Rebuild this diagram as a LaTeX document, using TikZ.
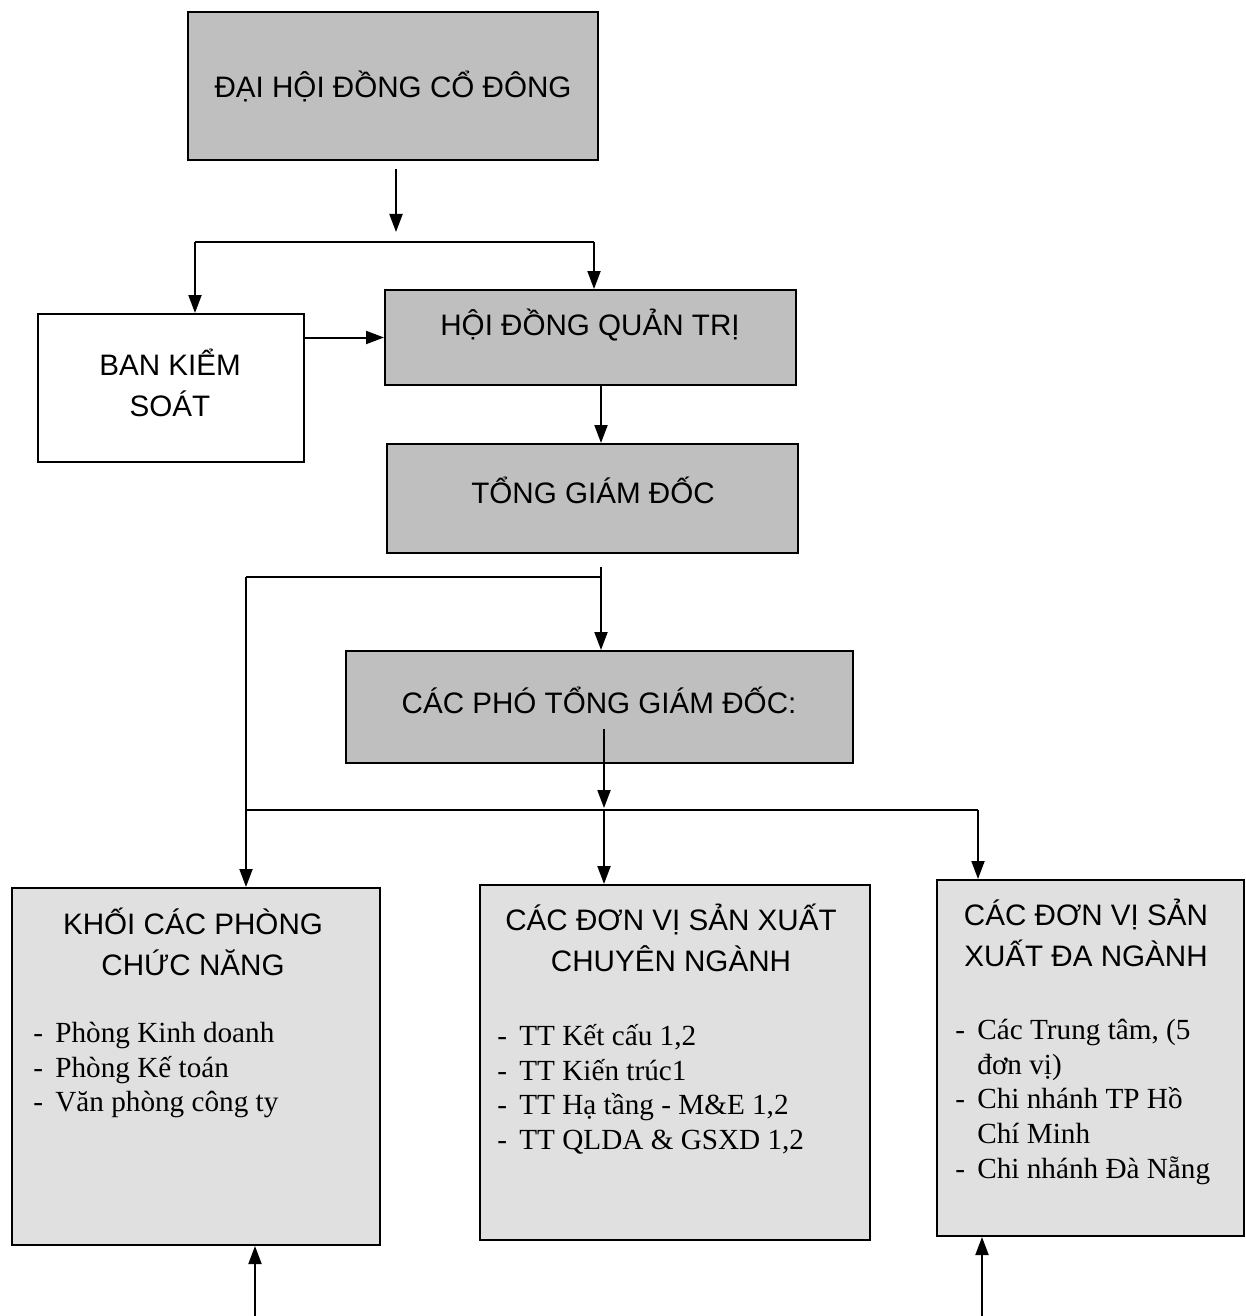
\documentclass[tikz,border=0pt]{standalone}
\usepackage{fontspec}
\setmainfont{Liberation Serif}
\setsansfont{Liberation Sans}
\usetikzlibrary{arrows.meta}
\newcommand\lidash{\makebox[11pt][l]{-}}
\newcommand\licont{\hspace*{11pt}}
\begin{document}
\begin{tikzpicture}[x=0.5pt,y=-0.5pt,
 box/.style={draw=black, line width=1pt, inner sep=0pt},
 dark/.style={box, fill=black!25},
 light/.style={box, fill=black!12},
 plain/.style={box, fill=white},
 head/.style={font=\sffamily\fontsize{14.8}{20.5}\selectfont, align=center, inner sep=0pt},
 items/.style={font=\rmfamily\fontsize{14.6}{17.3}\selectfont, align=left, inner sep=0pt, anchor=north west},
 ln/.style={line width=1pt},
 arr/.style={ln, -{Triangle[length=9pt,width=6.5pt]}},
]
\useasboundingbox (0,0) rectangle (1246,1316);

% boxes
\node[dark, minimum width=205pt, minimum height=74pt] (dh) at (393,86) {};
\node[head] (dht) at (393,86) {ĐẠI HỘI ĐỒNG CỔ ĐÔNG};
\node[plain, minimum width=133pt, minimum height=74pt] (bks) at (171,388) {};
\node[head] (bkst) at (170,383) {BAN KIỂM\\SOÁT};
\node[dark, minimum width=205.5pt, minimum height=47.5pt] (hdqt) at (590.5,337.5) {};
\node[head] (hdqtt) at (590,325) {HỘI ĐỒNG QUẢN TRỊ};
\node[dark, minimum width=205.5pt, minimum height=54.5pt] (tgd) at (592.5,498.5) {};
\node[head] (tgdt) at (593,490) {TỔNG GIÁM ĐỐC};
\node[dark, minimum width=253.5pt, minimum height=56pt] (pt) at (599.5,707) {};
\node[head] (ptt) at (599,700) {CÁC PHÓ TỔNG GIÁM ĐỐC:};

\node[light, minimum width=184pt, minimum height=178.5pt] (kl) at (196,1066.5) {};
\node[head] (klh) at (193,942) {KHỐI CÁC PHÒNG\\CHỨC NĂNG};
\node[items] (kli) at (33,1022) {\lidash Phòng Kinh doanh\\\lidash Phòng Kế toán\\\lidash Văn phòng công ty};

\node[light, minimum width=195pt, minimum height=177.5pt] (km) at (675,1062.5) {};
\node[head] (kmh) at (671,938) {CÁC ĐƠN VỊ SẢN XUẤT\\CHUYÊN NGÀNH};
\node[items] (kmi) at (497,1024) {\lidash TT Kết cấu 1,2\\\lidash TT Kiến trúc1\\\lidash TT Hạ tầng - M\&E 1,2\\\lidash TT QLDA \& GSXD 1,2};

\node[light, minimum width=153.5pt, minimum height=178pt] (kr) at (1090.5,1058) {};
\node[head] (krh) at (1086,933) {CÁC ĐƠN VỊ SẢN\\XUẤT ĐA NGÀNH};
\node[items] (kri) at (955,1019) {\lidash Các Trung tâm, (5\\\licont đơn vị)\\\lidash Chi nhánh TP Hồ\\\licont Chí Minh\\\lidash Chi nhánh Đà Nẵng};

% connector coordinates
\coordinate (j1) at (396,242);
\coordinate (jl) at (195,242);
\coordinate (jr) at (594,242);
\coordinate (c2) at (601,0);
\coordinate (j2) at (601,577);
\coordinate (j2l) at (246,577);
\coordinate (c3) at (604,0);
\coordinate (j3) at (604,810);
\coordinate (j3l) at (246,810);
\coordinate (j3r) at (978,810);
\coordinate (b1) at (255,1316);
\coordinate (b2) at (982,1316);

% connectors
\draw[arr] ([yshift=-4pt]dh.south -| j1) -- ([yshift=5pt]j1);
\draw[ln] (jl) -- (jr);
\draw[arr] (jl) -- (jl |- bks.north);
\draw[arr] (jr) -- (jr |- hdqt.north);
\draw[arr] (bks.east |- hdqt.west) -- (hdqt.west);
\draw[arr] (hdqt.south -| c2) -- (tgd.north -| c2);
\draw[arr] ([yshift=-6.5pt]tgd.south -| c2) -- (pt.north -| c2);
\draw[ln] (j2) -- (j2l);
\draw[arr] (j2l) -- (j2l |- kl.north);
\draw[arr] ([yshift=17.5pt]pt.south -| c3) -- ([yshift=1pt]j3);
\draw[ln] (j3l) -- (j3r);
\draw[arr] (j3) -- (km.north -| j3);
\draw[arr] (j3r) -- (kr.north -| j3r);
\draw[arr] (b1) -- (b1 |- kl.south);
\draw[arr] (b2) -- (b2 |- kr.south);
\end{tikzpicture}
\end{document}
